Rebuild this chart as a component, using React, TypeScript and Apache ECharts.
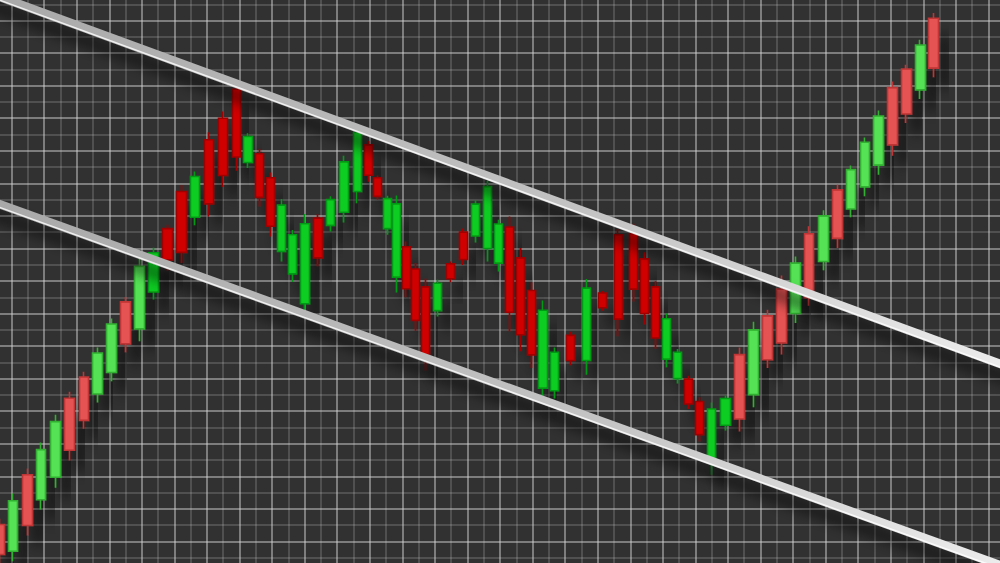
import React, { useEffect, useRef } from "react";
import * as echarts from "echarts";

// time position of each candle
const tPos = [
  6.4, 10.5, 14.9, 19.1, 23.5, 27.8, 32.2, 36.4, 40.7, 45.0,
  49.3, 53.6, 57.9, 62.2, 66.4, 70.7, 74.9, 79.2, 82.6, 86.1,
  89.5, 92.9, 96.4, 100.1, 104.1, 108.0, 112.1, 116.1, 119.6, 122.4,
  125.4, 128.3, 131.2, 134.1, 137.1, 140.8, 144.8, 148.7, 152.4, 156.1,
  159.5, 163.0, 166.4, 169.8, 173.2, 176.7, 181.7, 186.6, 191.5, 196.3,
  201.0, 204.4, 207.8, 211.2, 214.6, 218.0, 221.4, 224.9, 229.2, 233.5,
  237.8, 242.1, 246.4, 250.7, 254.9, 259.3, 263.6, 267.8, 272.1, 276.3,
  280.5, 284.7, 289.0, 293.1,
];
const openP = [
  15.2, 7.0, 30.5, 22.8, 29.7, 54.0, 60.5, 55.3, 61.9, 83.6,
  75.3, 86.6, 106.1, 117.5, 109.6, 133.4, 140.0, 148.9, 126.4, 129.1,
  121.7, 99.1, 92.2, 83.0, 109.3, 107.1, 111.1, 117.5, 131.8, 121.7,
  106.1, 91.2, 100.5, 93.7, 88.2, 80.9, 95.3, 105.0, 103.8, 100.0,
  95.5, 106.6, 97.1, 87.1, 57.1, 56.3, 73.3, 65.6, 86.3, 104.2,
  104.5, 96.8, 88.2, 66.0, 60.0, 59.9, 53.0, 34.3, 45.7, 67.4,
  55.1, 79.3, 87.5, 80.0, 104.5, 96.0, 118.0, 112.1, 118.9, 125.6,
  149.4, 155.1, 148.7, 170.7,
];
const closeP = [
  6.0, 22.5, 14.9, 38.2, 46.8, 38.0, 47.2, 67.9, 76.8, 70.7,
  94.5, 98.7, 96.5, 98.8, 122.1, 113.7, 122.4, 128.1, 134.4, 115.7,
  106.8, 113.3, 104.2, 107.6, 97.1, 115.0, 126.6, 135.6, 122.5, 116.0,
  115.3, 113.7, 87.6, 77.9, 67.4, 89.3, 90.7, 96.6, 113.6, 119.0,
  107.5, 80.4, 73.5, 67.3, 81.0, 68.1, 65.6, 87.8, 81.8, 78.3,
  87.5, 80.0, 72.5, 78.4, 68.1, 52.2, 42.8, 50.7, 53.9, 47.6,
  75.0, 65.8, 71.0, 95.5, 84.9, 110.0, 103.1, 124.2, 132.6, 140.7,
  131.8, 141.3, 162.5, 155.4,
];
const lowP = [
  2.9, 3.9, 11.8, 19.8, 26.5, 34.9, 44.6, 52.7, 59.2, 68.1,
  71.5, 84.3, 93.2, 95.5, 107.1, 109.8, 118.9, 123.9, 124.7, 112.9,
  103.7, 96.0, 89.7, 81.2, 94.5, 105.2, 108.0, 113.9, 120.5, 115.0,
  104.2, 86.5, 85.0, 74.7, 62.5, 79.1, 89.6, 94.9, 101.8, 96.0,
  92.9, 74.5, 68.4, 63.3, 54.1, 53.9, 64.1, 61.2, 80.9, 73.0,
  83.7, 76.6, 69.2, 63.5, 58.5, 50.7, 40.7, 30.5, 44.1, 43.8,
  51.2, 63.3, 67.4, 77.1, 82.4, 93.3, 100.1, 109.6, 116.0, 122.6,
  128.5, 138.5, 145.9, 152.6,
];
const highP = [
  17.0, 24.7, 32.4, 40.4, 48.9, 56.0, 62.1, 69.6, 78.5, 85.1,
  96.8, 100.2, 107.3, 119.5, 123.6, 135.7, 142.1, 149.7, 135.4, 130.6,
  123.3, 115.2, 105.7, 110.6, 110.6, 116.0, 128.5, 136.5, 133.0, 122.4,
  116.2, 116.3, 102.1, 95.5, 90.8, 90.4, 96.0, 106.1, 114.7, 120.8,
  108.8, 109.8, 100.1, 89.6, 84.0, 69.6, 74.4, 90.6, 86.9, 106.0,
  107.6, 98.8, 89.9, 80.0, 69.1, 60.9, 54.3, 52.7, 54.8, 69.6,
  77.5, 81.2, 91.7, 97.5, 106.8, 111.7, 119.6, 125.5, 134.1, 142.4,
  151.3, 156.4, 164.1, 172.3,
];

// channel trend lines [t, price]
const upperTrend = [
  [0, 179.6],
  [320, 62.2],
];
const lowerTrend = [
  [0, 115.9],
  [320, 0.4],
];

export default function App() {
  const ref = useRef<HTMLDivElement>(null);

  useEffect(() => {
    if (!ref.current) return;
    const chart = echarts.init(ref.current, null, { renderer: "svg" });

    const tone = (i: number, up: boolean) => {
      const light = i <= 10 || i >= 59;
      if (up) {
        return light
          ? { color: "#55e255", borderColor: "#30b030" }
          : { color: "#0fcc22", borderColor: "#069a14" };
      }
      return light
        ? { color: "#e65353", borderColor: "#c03434" }
        : { color: "#d10000", borderColor: "#a00000" };
    };

    const build = (from: number, to: number, width: number) => {
      const data: any[] = [];
      for (let i = from; i <= to; i++) {
        const up = closeP[i] >= openP[i];
        const s = tone(i, up);
        data.push({
          value: [tPos[i], openP[i], closeP[i], lowP[i], highP[i]],
          itemStyle: {
            color: s.color,
            color0: s.color,
            borderColor: s.borderColor,
            borderColor0: s.borderColor,
          },
        });
      }
      return {
        type: "candlestick",
        barWidth: width,
        data,
        z: 2,
        silent: true,
        itemStyle: {
          borderWidth: 1.6,
          shadowBlur: 14,
          shadowOffsetX: 11,
          shadowOffsetY: 18,
          shadowColor: "rgba(0,0,0,0.6)",
        },
      };
    };

    const grad = () =>
      new echarts.graphic.LinearGradient(0, 0, 1, 0, [
        { offset: 0, color: "#a8a8a8" },
        { offset: 0.6, color: "#c4c4c4" },
        { offset: 1, color: "#eeeeee" },
      ]);

    const trend = (d: number[][]) => ({
      type: "line",
      data: d,
      symbol: "none",
      silent: true,
      z: 5,
      lineStyle: {
        width: 8.5,
        color: grad(),
        shadowColor: "rgba(0,0,0,0.7)",
        shadowBlur: 14,
        shadowOffsetX: 5,
        shadowOffsetY: 14,
      },
    });
    const highlight = (d: number[][]) => ({
      type: "line",
      data: d.map((p) => [p[0], p[1] - 1.0]),
      symbol: "none",
      silent: true,
      z: 6,
      lineStyle: { width: 1.5, color: "rgba(255,255,255,0.8)" },
    });

    const axisCommon = {
      type: "value",
      interval: 10,
      axisLine: { show: false },
      axisTick: { show: false },
      axisLabel: { show: false },
      splitLine: {
        show: true,
        lineStyle: { color: "rgba(215,215,215,0.62)", width: 1.5 },
      },
      minorTick: { show: false, splitNumber: 2 },
      minorSplitLine: {
        show: true,
        lineStyle: { color: "rgba(200,200,200,0.28)", width: 1.5 },
      },
    };

    chart.setOption({
      animation: false,
      backgroundColor: "#313131",
      grid: { left: 0, top: 0, right: 0, bottom: 0 },
      xAxis: { ...axisCommon, min: 0, max: 320 },
      yAxis: { ...axisCommon, min: 0, max: 180, scale: false },
      series: [
        build(0, 16, 10),
        build(17, 57, 8.6),
        build(58, 73, 10.4),
        trend(upperTrend),
        trend(lowerTrend),
        highlight(upperTrend),
        highlight(lowerTrend),
      ],
    });

    return () => chart.dispose();
  }, []);

  return (
    <div
      style={{
        position: "fixed",
        left: 0,
        top: 0,
        width: 1000,
        height: 563,
        overflow: "hidden",
        background: "#313131",
      }}
    >
      <div
        ref={ref}
        style={{
          position: "absolute",
          left: -21,
          top: -12,
          width: 1042,
          height: 586,
        }}
      />
    </div>
  );
}
